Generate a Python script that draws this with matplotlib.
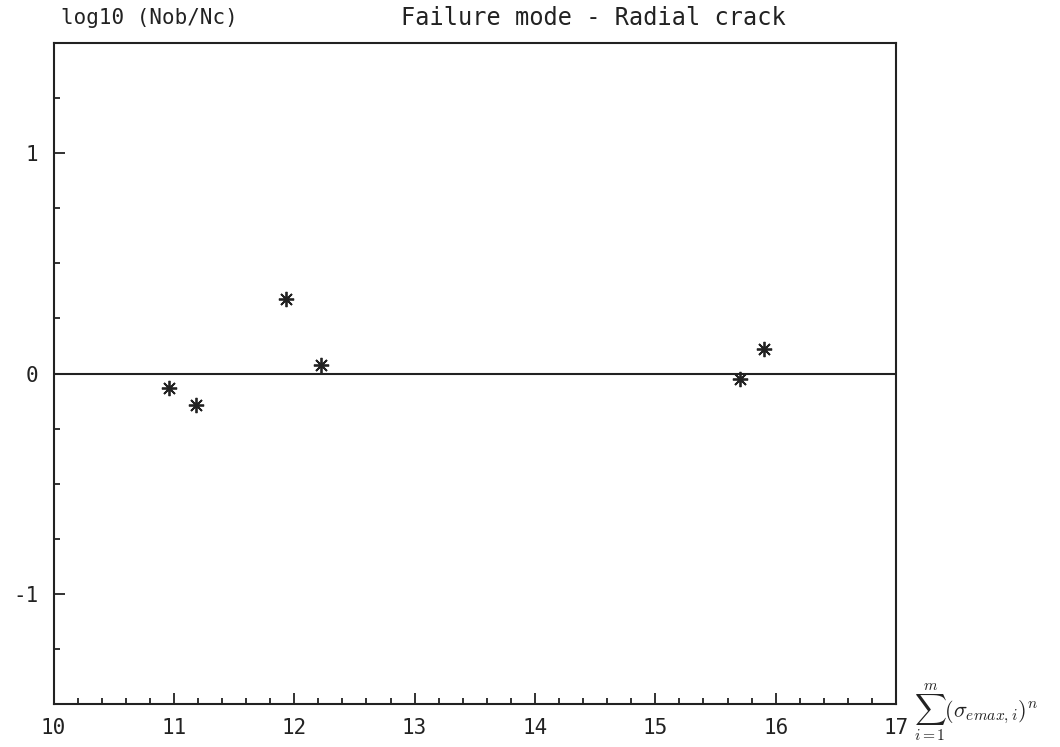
import numpy as np
import matplotlib.pyplot as plt
from matplotlib.ticker import MultipleLocator

# data
stress_sum = [10.96, 11.18, 11.93, 12.22, 15.70, 15.90]
log_ratio = [-0.068, -0.141, 0.336, 0.038, -0.027, 0.109]

xticks = [10, 11, 12, 13, 14, 15, 16, 17]
yticks = [-1, 0, 1]

plt.rcParams['font.family'] = ['DejaVu Sans Mono']
plt.rcParams['mathtext.fontset'] = 'cm'
ink = '#222222'

fig = plt.figure(figsize=(10.6, 7.47), dpi=100)
ax = fig.add_axes([0.0505, 0.0576, 0.7948, 0.8848])

ax.axhline(0, color=ink, lw=1.5)
ax.plot(stress_sum, log_ratio, ls='none', marker=(8, 2, 0), ms=11, mew=1.3, color=ink)

ax.set_xlim(10, 17)
ax.set_ylim(-1.5, 1.5)
ax.set_xticks(xticks)
ax.set_xticklabels([str(v) for v in xticks])
ax.set_yticks(yticks)
ax.set_yticklabels([str(v) for v in yticks])
ax.xaxis.set_minor_locator(MultipleLocator(0.2))
ax.yaxis.set_minor_locator(MultipleLocator(0.25))
ax.tick_params(which='both', direction='in', top=False, right=False, colors=ink,
               labelsize=15, width=1.3)
ax.tick_params(which='major', length=8, pad=10)
ax.tick_params(which='minor', length=4)
ax.tick_params(axis='y', which='major', pad=11)
for s in ax.spines.values():
    s.set_linewidth(1.5)
    s.set_color(ink)

fig.text(0.058, 0.976, 'log10 (Nob/Nc)', fontsize=15, color=ink, va='center', ha='left')
fig.text(0.56, 0.976, 'Failure mode - Radial crack', fontsize=17, color=ink, va='center', ha='center')
fig.text(0.862, 0.046, r'$\sum_{i=1}^{m}(\sigma_{emax,i})^n$', fontsize=16, color=ink,
         va='center', ha='left')

fig.savefig('out.png', dpi=100)
